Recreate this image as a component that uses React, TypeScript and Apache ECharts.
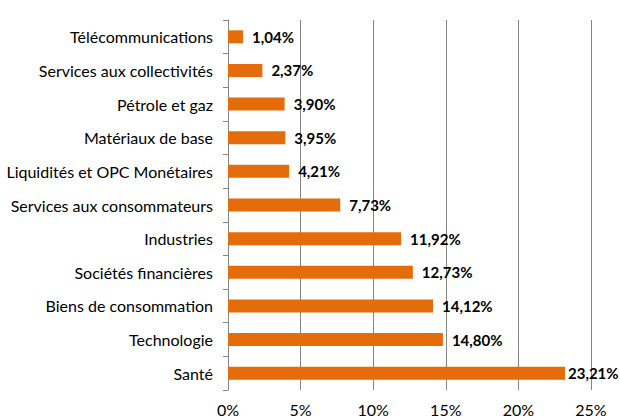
import React, { useEffect, useRef } from "react";
import * as echarts from "echarts";

const categories = [
  "Santé",
  "Technologie",
  "Biens de consommation",
  "Sociétés financières",
  "Industries",
  "Services aux consommateurs",
  "Liquidités et OPC Monétaires",
  "Matériaux de base",
  "Pétrole et gaz",
  "Services aux collectivités",
  "Télécommunications",
];
const values = [23.21, 14.8, 14.12, 12.73, 11.92, 7.73, 4.21, 3.95, 3.9, 2.37, 1.04];

const FONT = "Lato, 'Open Sans', sans-serif";

export default function App() {
  const ref = useRef<HTMLDivElement>(null);
  useEffect(() => {
    const chart = echarts.init(ref.current!, null, { renderer: "svg" });
    chart.setOption({
      animation: false,
      grid: { left: 228, right: 29, top: 20, bottom: 30, containLabel: false },
      xAxis: {
        type: "value",
        min: 0,
        max: 25,
        interval: 5,
        axisLine: { show: false },
        axisTick: { show: false },
        splitLine: { show: true, lineStyle: { color: "#868686", width: 1 } },
        axisLabel: {
          formatter: (v: number) => v + "%",
          color: "#000",
          fontSize: 16,
          fontFamily: FONT,
          margin: 11,
        },
      },
      yAxis: {
        type: "category",
        data: categories,
        axisLine: { show: true, lineStyle: { color: "#868686" } },
        axisTick: { show: true, length: 5, lineStyle: { color: "#868686" } },
        axisLabel: {
          color: "#000",
          fontSize: 16,
          fontFamily: FONT,
          margin: 15,
        },
      },
      series: [
        {
          type: "bar",
          data: values.map((v, i) =>
            i === 0 ? { value: v, label: { distance: 3 } } : v
          ),
          barWidth: 13,
          itemStyle: { color: "#E46C0A" },
          label: {
            show: true,
            position: "right",
            distance: 9,
            formatter: (p: any) => p.value.toFixed(2).replace(".", ",") + "%",
            color: "#000",
            fontWeight: "bold",
            fontSize: 15,
            fontFamily: FONT,
          },
        },
      ],
    });
    return () => chart.dispose();
  }, []);
  return (
    <div
      ref={ref}
      style={{ position: "absolute", left: 0, top: 0, width: 620, height: 420 }}
    />
  );
}
